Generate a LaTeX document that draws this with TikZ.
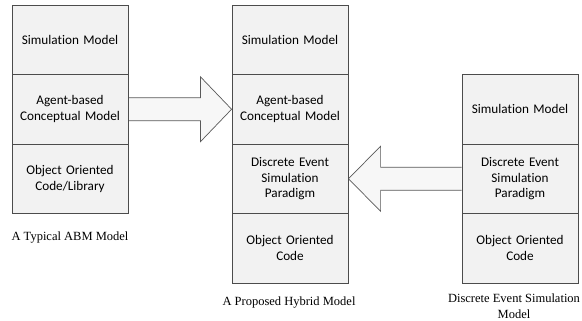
\documentclass[tikz,border=0pt]{standalone}
\usepackage{fontspec}
\setmainfont{Liberation Serif}
\newfontfamily\boxfont[Ligatures=NoCommon]{Carlito}
\usetikzlibrary{calc,backgrounds}
\begin{document}
\begin{tikzpicture}[x=1pt,y=-1pt,
  layerbox/.style={draw=black!70, line width=0.8pt, fill=black!5,
    minimum width=116pt, minimum height=69.5pt, inner sep=0pt,
    text width=112pt, align=center,
    font=\boxfont\fontsize{13.2}{15.7}\selectfont},
  caption/.style={font=\fontsize{12.5}{16}\selectfont, align=center, inner sep=0pt},
  bigarrow/.style={draw=black!65, line width=0.7pt, fill=black!3, line join=miter}]
\useasboundingbox (0,0) rectangle (582,321);
% left stack
\node[layerbox] (l1) at (70,39.75) {Simulation Model};
\node[layerbox] (l2) at (70,109.25) {Agent-based\\Conceptual Model};
\node[layerbox] (l3) at (70,178.75) {Object Oriented\\Code/Library};
% middle stack
\node[layerbox] (m1) at (290,39.75) {Simulation Model};
\node[layerbox] (m2) at (290,109.25) {Agent-based\\Conceptual Model};
\node[layerbox] (m3) at (290,178.75) {Discrete Event\\Simulation\\Paradigm};
\node[layerbox] (m4) at (290,248.25) {Object Oriented\\Code};
% right stack
\node[layerbox] (r1) at (520,109.25) {Simulation Model};
\node[layerbox] (r2) at (520,178.75) {Discrete Event\\Simulation\\Paradigm};
\node[layerbox] (r3) at (520,248.25) {Object Oriented\\Code};
% captions
\node[caption] (c1) at (70,238) {A Typical ABM Model};
\node[caption] (c2) at (289,303) {A Proposed Hybrid Model};
\node[caption] (c3) at (514,306) {Discrete Event Simulation\\Model};
% arrows
\begin{scope}[on background layer]
\draw[bigarrow] ($(l2.east)+(0,-11.5)$) -- ($(l2.east)+(72,-11.5)$)
  -- ($(l2.east)+(72,-32.5)$) -- (m2.west) -- ($(l2.east)+(72,32.5)$)
  -- ($(l2.east)+(72,11.5)$) -- ($(l2.east)+(0,11.5)$);
\draw[bigarrow] ($(r2.west)+(0,-11.5)$) -- ($(r2.west)+(-81,-11.5)$)
  -- ($(r2.west)+(-81,-32.5)$) -- (m3.east) -- ($(r2.west)+(-81,32.5)$)
  -- ($(r2.west)+(-81,11.5)$) -- ($(r2.west)+(0,11.5)$);
\end{scope}
\end{tikzpicture}
\end{document}
